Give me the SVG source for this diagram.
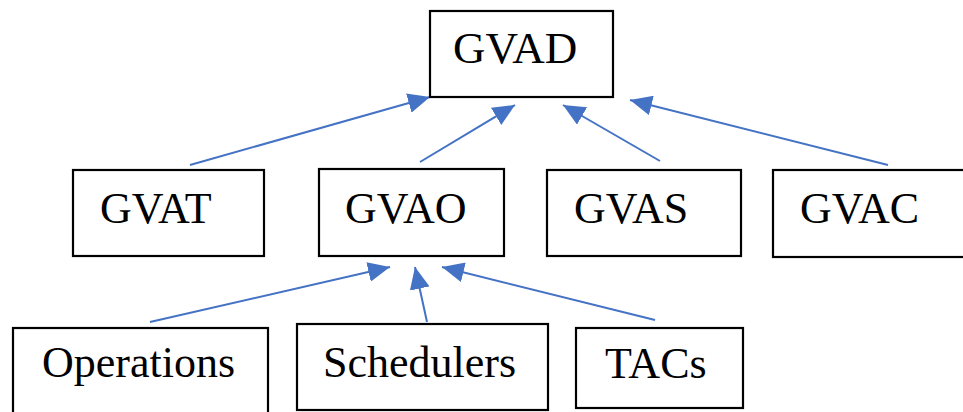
<svg xmlns="http://www.w3.org/2000/svg" width="963" height="412" viewBox="0 0 963 412">
<style>
.box{fill:#fff;stroke:#000;stroke-width:2.2}
.lbl{font-family:"Liberation Serif","Times New Roman",serif;font-size:44px;fill:#000}
.edge{stroke:#4472C4;stroke-width:2;fill:none;marker-end:url(#ah)}
</style>
<defs>
<marker id="ah" markerUnits="userSpaceOnUse" markerWidth="23" markerHeight="20" refX="22" refY="10" orient="auto">
<path d="M0,0 L22,10 L0,20 z" fill="#4472C4"/>
</marker>
</defs>
<rect width="963" height="412" fill="#fff"/>
<g id="connectors">
<line class="edge" x1="190" y1="165" x2="430" y2="97"/>
<line class="edge" x1="420" y1="162" x2="515" y2="105"/>
<line class="edge" x1="660" y1="161" x2="563" y2="105"/>
<line class="edge" x1="888" y1="165" x2="630" y2="100"/>
<line class="edge" x1="150" y1="322" x2="390" y2="267"/>
<line class="edge" x1="427" y1="322" x2="415" y2="267"/>
<line class="edge" x1="655" y1="320" x2="442" y2="267"/>
</g>
<g id="gvad"><rect class="box" x="430" y="11" width="183" height="86"/><text class="lbl" x="453" y="63" style="font-size:45px">GVAD</text></g>
<g id="gvat"><rect class="box" x="73" y="170" width="191" height="86"/><text class="lbl" x="100" y="223">GVAT</text></g>
<g id="gvao"><rect class="box" x="319" y="169" width="185" height="87"/><text class="lbl" x="345" y="223">GVAO</text></g>
<g id="gvas"><rect class="box" x="547" y="170" width="194" height="86"/><text class="lbl" x="574" y="223">GVAS</text></g>
<g id="gvac"><rect class="box" x="773" y="170" width="200" height="87"/><text class="lbl" x="800" y="223">GVAC</text></g>
<g id="operations"><rect class="box" x="13" y="328" width="255" height="100"/><text class="lbl" x="42" y="377">Operations</text></g>
<g id="schedulers"><rect class="box" x="297" y="324" width="251" height="86"/><text class="lbl" x="323" y="377">Schedulers</text></g>
<g id="tacs"><rect class="box" x="576" y="328" width="167" height="80"/><text class="lbl" x="605" y="378">TACs</text></g>
</svg>
